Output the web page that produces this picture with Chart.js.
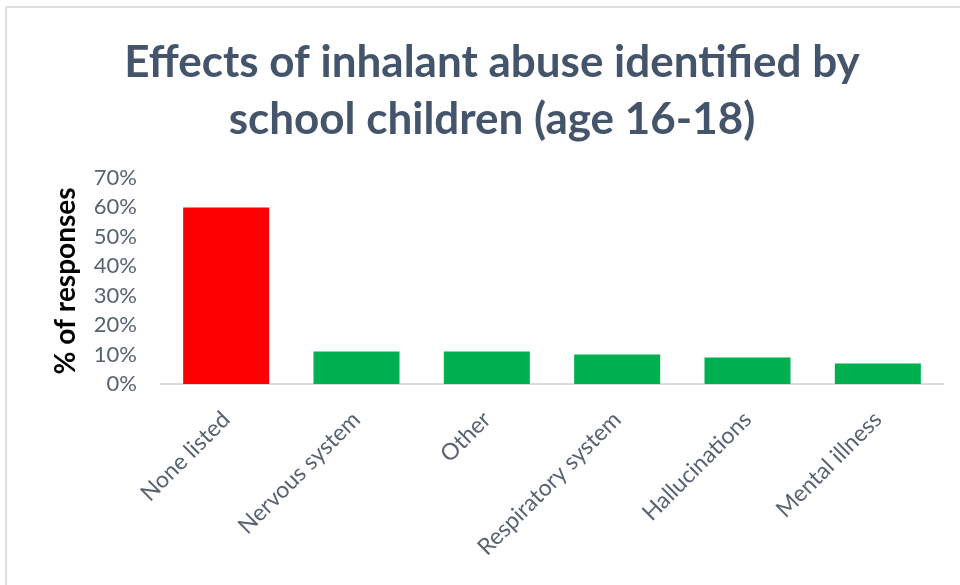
<!DOCTYPE html>
<html>
<head>
<meta charset="utf-8">
<script src="https://cdn.jsdelivr.net/npm/chart.js@4/dist/chart.umd.min.js"></script>
<style>
  body { margin: 0; background: #fff; }
  #wrap { position: relative; width: 960px; height: 585px; overflow: hidden; }
  #frame { position: absolute; left: 5px; top: 6px; width: 1000px; height: 700px;
           border-left: 2px solid #dde0e6; border-top: 2px solid #dde0e6; }
  canvas { position: absolute; left: 0; top: 0; }
</style>
</head>
<body>
<div id="wrap">
  <div id="frame"></div>
  <canvas id="chart" width="960" height="585"></canvas>
</div>
<script>
const categories = ['None listed', 'Nervous system', 'Other', 'Respiratory system', 'Hallucinations', 'Mental illness'];
const responses = [60, 11, 11, 10, 9, 7];
const barColors = ['#FF0000', '#00B050', '#00B050', '#00B050', '#00B050', '#00B050'];
const titleLines = ['Effects of inhalant abuse identified by', 'school children (age 16-18)'];

const textGrey = '#5a6272';

const ctx = document.getElementById('chart').getContext('2d');
new Chart(ctx, {
  type: 'bar',
  data: {
    labels: categories,
    datasets: [{
      label: '% of responses',
      data: responses,
      backgroundColor: barColors,
      categoryPercentage: 1,
      barPercentage: 0.66
    }]
  },
  options: {
    responsive: false,
    animation: false,
    layout: { padding: { left: 41, right: 17, top: 0, bottom: 0 } },
    plugins: {
      legend: { display: false },
      tooltip: { enabled: false },
      title: {
        display: true,
        text: titleLines,
        color: '#44546A',
        font: { family: 'Lato', size: 44, weight: 'bold', lineHeight: 1.295 },
        padding: { top: 34, bottom: 30 }
      }
    },
    scales: {
      y: {
        min: 0,
        max: 70,
        ticks: {
          stepSize: 10,
          color: textGrey,
          padding: 16,
          font: { family: 'Lato', size: 22 },
          callback: v => v + '%'
        },
        grid: { display: false },
        border: { display: false },
        title: {
          display: true,
          text: '% of responses',
          color: '#000',
          font: { family: 'Lato', size: 28, weight: 'bold' },
          padding: { top: 8, bottom: 0 }
        },
        afterFit: s => { s.width = 120; }
      },
      x: {
        ticks: {
          color: textGrey,
          maxRotation: 45,
          minRotation: 45,
          padding: 14,
          font: { family: 'Lato', size: 23 }
        },
        grid: { display: false },
        border: { display: true, color: '#d9dce2', width: 2 },
        afterFit: s => { s.height = 201; }
      }
    }
  }
});
</script>
</body>
</html>
